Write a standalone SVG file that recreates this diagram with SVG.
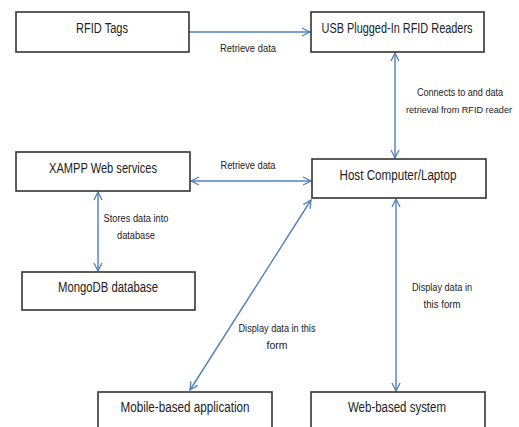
<svg xmlns="http://www.w3.org/2000/svg" width="519" height="427" viewBox="0 0 519 427">
<style>
.box{fill:#fff;stroke:#333;stroke-width:1.6}
.bt{font-family:"Liberation Sans",Arial,sans-serif;font-size:14px;fill:#222;text-anchor:middle}
.lt{font-family:"Liberation Sans",Arial,sans-serif;font-size:10px;fill:#222;text-anchor:middle}
.sm{font-size:9px}
.c{stroke:#4F81BD;stroke-width:1.4;fill:none;marker-end:url(#ah)}
.d{marker-start:url(#ah)}
</style>
<defs>
<marker id="ah" viewBox="0 0 10 10" refX="9" refY="5" markerWidth="10" markerHeight="10" markerUnits="userSpaceOnUse" orient="auto-start-reverse">
<path d="M1,1 L9,5 L1,9" fill="none" stroke="#4F81BD" stroke-width="1.3"/>
</marker>
</defs>
<rect width="519" height="427" fill="#fff"/>
<g id="connectors">
<line class="c" x1="189" y1="32" x2="310" y2="32"/>
<line class="c d" x1="395" y1="53" x2="395" y2="158"/>
<line class="c d" x1="191" y1="181" x2="311" y2="181"/>
<line class="c d" x1="98" y1="192" x2="98" y2="271"/>
<line class="c d" x1="190" y1="390" x2="311" y2="200"/>
<line class="c d" x1="396" y1="199" x2="396" y2="391"/>
<text class="lt" x="248" y="52" textLength="56" lengthAdjust="spacingAndGlyphs">Retrieve data</text>
<text class="lt" x="460" y="96" textLength="86" lengthAdjust="spacingAndGlyphs">Connects to and data</text>
<text class="lt sm" x="459" y="113" textLength="106" lengthAdjust="spacingAndGlyphs">retrieval from RFID reader</text>
<text class="lt" x="248" y="169" textLength="55" lengthAdjust="spacingAndGlyphs">Retrieve data</text>
<text class="lt" x="136" y="222" textLength="65" lengthAdjust="spacingAndGlyphs">Stores data into</text>
<text class="lt" x="136" y="239" textLength="38" lengthAdjust="spacingAndGlyphs">database</text>
<text class="lt" x="442" y="291" textLength="60" lengthAdjust="spacingAndGlyphs">Display data in</text>
<text class="lt" x="442" y="308" textLength="37" lengthAdjust="spacingAndGlyphs">this form</text>
<text class="lt" x="277" y="332" textLength="77" lengthAdjust="spacingAndGlyphs">Display data in this</text>
<text class="lt" x="277" y="349" textLength="21" lengthAdjust="spacingAndGlyphs">form</text>
</g>
<g id="rfid-tags">
<rect class="box" x="16" y="12" width="173" height="40"/>
<text class="bt" x="102" y="33" textLength="52" lengthAdjust="spacingAndGlyphs">RFID Tags</text>
</g>
<g id="usb-readers">
<rect class="box" x="311" y="12" width="173" height="40"/>
<text class="bt" x="397" y="33" textLength="151" lengthAdjust="spacingAndGlyphs">USB Plugged-In RFID Readers</text>
</g>
<g id="host">
<rect class="box" x="312" y="159" width="174" height="39"/>
<text class="bt" x="398" y="180" textLength="117" lengthAdjust="spacingAndGlyphs">Host Computer/Laptop</text>
</g>
<g id="xampp">
<rect class="box" x="16" y="152" width="174" height="39"/>
<text class="bt" x="103" y="173" textLength="108" lengthAdjust="spacingAndGlyphs">XAMPP Web services</text>
</g>
<g id="mongodb">
<rect class="box" x="22" y="272" width="173" height="38"/>
<text class="bt" x="108" y="292" textLength="100" lengthAdjust="spacingAndGlyphs">MongoDB database</text>
</g>
<g id="mobile">
<rect class="box" x="98" y="392" width="174" height="50"/>
<text class="bt" x="185" y="412" textLength="129" lengthAdjust="spacingAndGlyphs">Mobile-based application</text>
</g>
<g id="web">
<rect class="box" x="311" y="392" width="174" height="50"/>
<text class="bt" x="397" y="412" textLength="98" lengthAdjust="spacingAndGlyphs">Web-based system</text>
</g>
</svg>
